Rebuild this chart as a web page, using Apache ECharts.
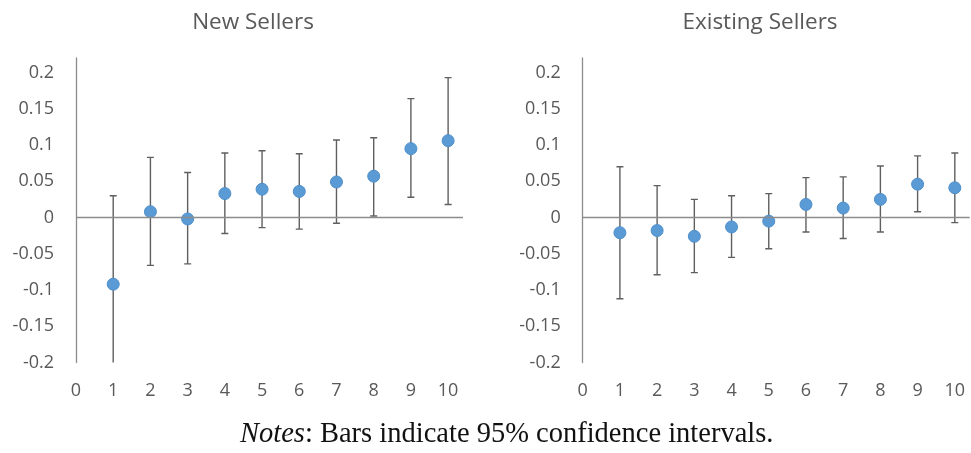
<!DOCTYPE html>
<html>
<head>
<meta charset="utf-8">
<script src="https://cdn.jsdelivr.net/npm/echarts@6/dist/echarts.min.js"></script>
<style>
  html, body { margin: 0; padding: 0; background: #fff; }
  #chart { width: 971px; height: 453px; }
</style>
</head>
<body>
<div id="chart"></div>
<script>
// Event-time horizon (x) shared by both panels
const periods = [1, 2, 3, 4, 5, 6, 7, 8, 9, 10];
const xTicks = [0, 1, 2, 3, 4, 5, 6, 7, 8, 9, 10];
const yTicks = [-0.2, -0.15, -0.1, -0.05, 0, 0.05, 0.1, 0.15, 0.2];

// New sellers: point estimates and 95% CI bounds
const newEst   = [-0.092, 0.008, -0.002, 0.033, 0.039, 0.036, 0.049, 0.057, 0.095, 0.106];
const newLow   = [-0.214, -0.066, -0.064, -0.022, -0.014, -0.016, -0.008, 0.002, 0.028, 0.018];
const newHigh  = [0.030, 0.083, 0.062, 0.089, 0.092, 0.088, 0.107, 0.110, 0.164, 0.193];

// Existing sellers: point estimates and 95% CI bounds
const oldEst   = [-0.021, -0.018, -0.026, -0.013, -0.005, 0.018, 0.013, 0.025, 0.046, 0.041];
const oldLow   = [-0.112, -0.079, -0.076, -0.055, -0.043, -0.020, -0.029, -0.020, 0.008, -0.007];
const oldHigh  = [0.070, 0.044, 0.025, 0.030, 0.033, 0.055, 0.056, 0.071, 0.085, 0.089];

const titles = ['New Sellers', 'Existing Sellers'];
const noteText = 'Bars indicate 95% confidence intervals.';

const labelFont = '"Open Sans", "Noto Sans", sans-serif';
const textGray = '#595959';
const axisGray = '#8c8c8c';
const dotBlue = '#5b9bd5';

function fmt(v) {
  const r = Math.round(v * 100) / 100;
  return yTicks.some(t => Math.abs(t - r) < 1e-9) && Math.abs(v - r) < 1e-6 ? String(r) : '';
}

function makeGrid(left) {
  return { left: left, top: 58, width: 387, height: 304.5, containLabel: false };
}

function makeX(idx) {
  return {
    type: 'value', gridIndex: idx, min: 0, max: 10.4, interval: 1,
    axisLine: { show: false }, axisTick: { show: false }, splitLine: { show: false },
    axisLabel: {
      color: textGray, fontFamily: labelFont, fontSize: 18, margin: 19,
      formatter: v => (xTicks.indexOf(Math.round(v)) >= 0 && Math.abs(v - Math.round(v)) < 1e-6) ? String(Math.round(v)) : '',
      showMaxLabel: false
    }
  };
}

function makeY(idx) {
  return {
    type: 'value', gridIndex: idx, min: -0.2, max: 0.22, interval: 0.05,
    axisLine: { show: true, onZero: false, lineStyle: { color: axisGray, width: 1.3 } },
    axisTick: { show: false }, splitLine: { show: false },
    axisLabel: { color: textGray, fontFamily: labelFont, fontSize: 18, margin: 22, formatter: fmt, showMaxLabel: false }
  };
}

function errorBars(idx, low, high) {
  return {
    type: 'custom', xAxisIndex: idx, yAxisIndex: idx, clip: true, z: 2,
    data: periods.map((p, i) => [p, low[i], high[i]]),
    renderItem: function (params, api) {
      const x = api.value(0);
      const lo = api.coord([x, api.value(1)]);
      const hi = api.coord([x, api.value(2)]);
      const cap = 3.5;
      const style = { stroke: '#5f5f5f', lineWidth: 1.4, fill: null };
      return {
        type: 'group',
        children: [
          { type: 'line', shape: { x1: lo[0], y1: lo[1], x2: hi[0], y2: hi[1] }, style: style },
          { type: 'line', shape: { x1: hi[0] - cap, y1: hi[1], x2: hi[0] + cap, y2: hi[1] }, style: style },
          { type: 'line', shape: { x1: lo[0] - cap, y1: lo[1], x2: lo[0] + cap, y2: lo[1] }, style: style }
        ]
      };
    }
  };
}

function points(idx, est) {
  return {
    type: 'scatter', xAxisIndex: idx, yAxisIndex: idx, z: 3,
    symbol: 'circle', symbolSize: 12,
    itemStyle: { color: dotBlue, borderColor: '#4f8fca', borderWidth: 1, opacity: 1 },
    data: periods.map((p, i) => [p, est[i]]),
    markLine: {
      silent: true, symbol: 'none', animation: false, label: { show: false },
      lineStyle: { color: axisGray, width: 1.3, type: 'solid' },
      data: [{ yAxis: 0 }]
    }
  };
}

const chart = echarts.init(document.getElementById('chart'), null, { renderer: 'canvas' });
chart.setOption({
  animation: false,
  backgroundColor: '#ffffff',
  title: [
    { text: titles[0], left: 248, top: 6, textAlign: 'center',
      textStyle: { color: textGray, fontFamily: labelFont, fontSize: 22.5, fontWeight: 'normal' } },
    { text: titles[1], left: 755, top: 6, textAlign: 'center',
      textStyle: { color: textGray, fontFamily: labelFont, fontSize: 22.5, fontWeight: 'normal' } }
  ],
  grid: [makeGrid(76), makeGrid(582.7)],
  xAxis: [makeX(0), makeX(1)],
  yAxis: [makeY(0), makeY(1)],
  series: [
    errorBars(0, newLow, newHigh), points(0, newEst),
    errorBars(1, oldLow, oldHigh), points(1, oldEst)
  ],
  graphic: [{
    type: 'text', left: 240, top: 420,
    style: {
      text: '{i|Notes}: ' + noteText,
      fill: '#111', font: '28.5px "Liberation Serif", serif',
      rich: { i: { fontStyle: 'italic', fontFamily: '"Liberation Serif", serif', fontSize: 28.5, fill: '#111' } }
    }
  }]
});
</script>
</body>
</html>
